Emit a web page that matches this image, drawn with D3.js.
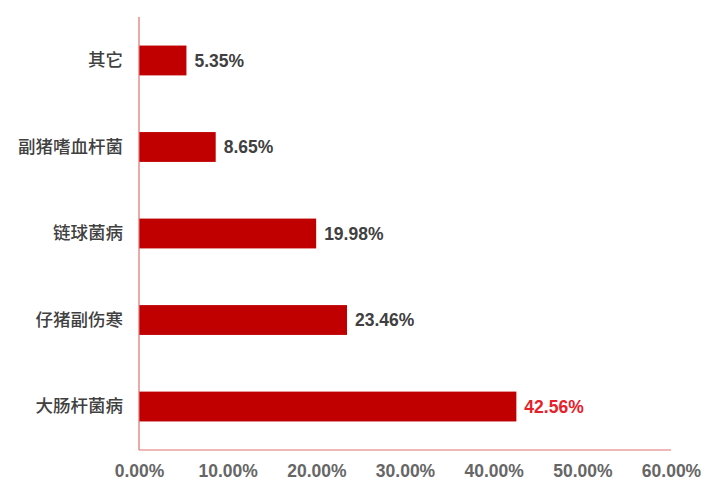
<!DOCTYPE html>
<html><head><meta charset="utf-8">
<script src="https://cdn.jsdelivr.net/npm/d3@7"></script>
<style>body{margin:0;background:#fff}</style>
</head><body>
<script>
const categories = ["其它","副猪嗜血杆菌","链球菌病","仔猪副伤寒","大肠杆菌病"];
const values = [5.35, 8.65, 19.98, 23.46, 42.56];
const tickValues = [0,10,20,30,40,50,60];

const W=716,H=491;
const svg=d3.select("body").append("svg").attr("width",W).attr("height",H);
const x=d3.scaleLinear().domain([0,60]).range([139,671]);
const y=d3.scaleBand().domain(categories).range([17,450]).paddingInner(0.655).paddingOuter(0.33);
const axisColor="#e07070";
// bars
svg.selectAll("rect.bar").data(values).join("rect")
  .attr("x",x(0)).attr("y",(d,i)=>y(categories[i]))
  .attr("width",d=>x(d)-x(0)).attr("height",y.bandwidth())
  .attr("fill","#c00000");
// axes lines
svg.append("line").attr("x1",x(0)).attr("x2",x(0)).attr("y1",17).attr("y2",450).attr("stroke",axisColor).attr("stroke-width",1.2);
svg.append("line").attr("x1",x(0)).attr("x2",x(60)).attr("y1",450).attr("y2",450).attr("stroke",axisColor).attr("stroke-width",1.2);
// x tick labels
const xAxis=d3.axisBottom(x).tickValues(tickValues).tickSize(0).tickPadding(0).tickFormat(d=>d.toFixed(2)+"%");
const gx=svg.append("g").attr("transform","translate(0,465)").call(xAxis);
gx.select(".domain").remove();
gx.selectAll("text").attr("font-family","'Liberation Sans',Arial,sans-serif").attr("font-weight","bold").attr("font-size",17.5).attr("fill","#666666");
// y labels
const yAxis=d3.axisLeft(y).tickSize(0).tickPadding(16);
const gy=svg.append("g").attr("transform",`translate(${x(0)},0)`).call(yAxis);
gy.select(".domain").remove();
gy.selectAll("text").attr("font-family","'Noto Sans CJK SC',sans-serif").attr("font-weight",500).attr("font-size",17.5).attr("fill","#404040");
// value labels
svg.selectAll("text.val").data(values).join("text").attr("class","val")
  .attr("x",d=>x(d)+8).attr("y",(d,i)=>y(categories[i])+y.bandwidth()/2)
  .attr("dy","0.36em")
  .attr("font-family","'Liberation Sans',Arial,sans-serif").attr("font-weight","bold").attr("font-size",17.5)
  .attr("fill",(d,i)=>i===values.length-1?"#e8202a":"#404040")
  .text(d=>d.toFixed(2)+"%");
</script>
</body></html>
